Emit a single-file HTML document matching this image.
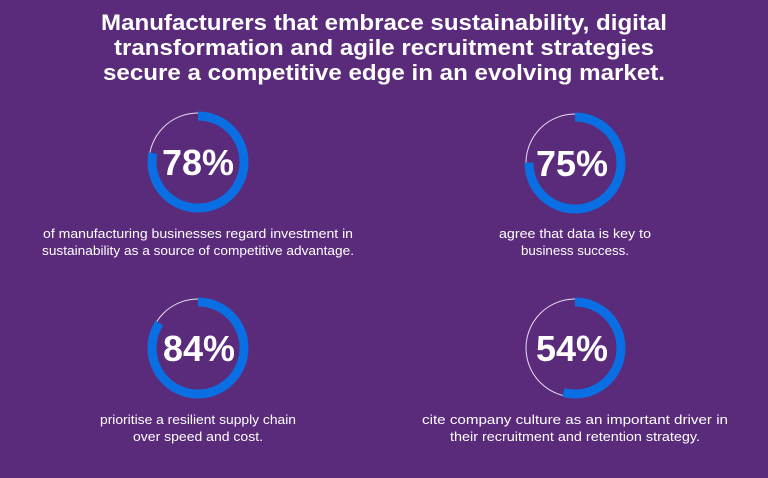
<!DOCTYPE html>
<html><head><style>
body{margin:0;background:#5a2a7b;}
svg{display:block}
</style></head><body>
<svg width="768" height="478" xmlns="http://www.w3.org/2000/svg">
<rect width="768" height="478" fill="#5a2a7b"/>
<g font-family="Liberation Sans, sans-serif" font-weight="bold" fill="#fff" text-anchor="middle" font-size="22">
<text x="384" y="30" textLength="566" lengthAdjust="spacingAndGlyphs">Manufacturers that embrace sustainability, digital</text>
<text x="384" y="55" textLength="540" lengthAdjust="spacingAndGlyphs">transformation and agile recruitment strategies</text>
<text x="384" y="80" textLength="562" lengthAdjust="spacingAndGlyphs">secure a competitive edge in an evolving market.</text>
</g>
<g fill="none">
<g transform="translate(198,162) rotate(-90)">
<circle r="49" stroke="#e8dff0" stroke-width="1"/>
<circle r="46" stroke="#0a6fe3" stroke-width="9" stroke-dasharray="225.4 400"/>
</g>
<g transform="translate(575,163) rotate(-90)">
<circle r="49" stroke="#e8dff0" stroke-width="1"/>
<circle r="46" stroke="#0a6fe3" stroke-width="9" stroke-dasharray="216.8 400"/>
</g>
<g transform="translate(198,348) rotate(-90)">
<circle r="49" stroke="#e8dff0" stroke-width="1"/>
<circle r="46" stroke="#0a6fe3" stroke-width="9" stroke-dasharray="242.8 400"/>
</g>
<g transform="translate(575,348) rotate(-90)">
<circle r="49" stroke="#e8dff0" stroke-width="1"/>
<circle r="46" stroke="#0a6fe3" stroke-width="9" stroke-dasharray="156.1 400"/>
</g>
</g>
<g font-family="Liberation Sans, sans-serif" font-weight="bold" fill="#fff" text-anchor="middle" font-size="36">
<text x="198" y="175" textLength="72" lengthAdjust="spacingAndGlyphs">78%</text>
<text x="572" y="176" textLength="72" lengthAdjust="spacingAndGlyphs">75%</text>
<text x="199" y="361" textLength="72" lengthAdjust="spacingAndGlyphs">84%</text>
<text x="572" y="361" textLength="72" lengthAdjust="spacingAndGlyphs">54%</text>
</g>
<g font-family="Liberation Sans, sans-serif" fill="#fff" text-anchor="middle" font-size="12.5">
<text x="198" y="238" textLength="310" lengthAdjust="spacingAndGlyphs">of manufacturing businesses regard investment in</text>
<text x="198" y="255" textLength="312" lengthAdjust="spacingAndGlyphs">sustainability as a source of competitive advantage.</text>
<text x="575" y="238" textLength="152" lengthAdjust="spacingAndGlyphs">agree that data is key to</text>
<text x="575" y="255" textLength="108" lengthAdjust="spacingAndGlyphs">business success.</text>
<text x="198" y="424" textLength="196" lengthAdjust="spacingAndGlyphs">prioritise a resilient supply chain</text>
<text x="198" y="441" textLength="130" lengthAdjust="spacingAndGlyphs">over speed and cost.</text>
<text x="575" y="424" textLength="306" lengthAdjust="spacingAndGlyphs">cite company culture as an important driver in</text>
<text x="575" y="441" textLength="250" lengthAdjust="spacingAndGlyphs">their recruitment and retention strategy.</text>
</g>
</svg>
</body></html>
